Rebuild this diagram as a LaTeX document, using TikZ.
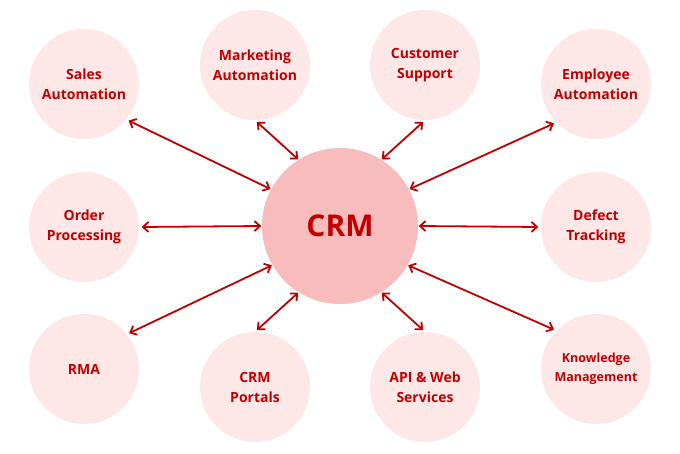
\documentclass[tikz,border=0pt]{standalone}
\usepackage{fontspec}
\setmainfont{Open Sans}
\usetikzlibrary{arrows.meta}
\definecolor{crmred}{HTML}{C00000}
\definecolor{lightpink}{HTML}{FDE7E7}
\definecolor{midpink}{HTML}{F9BCBC}
\begin{document}
\begin{tikzpicture}[x=1pt,y=-1pt,
  outer/.style={circle,fill=lightpink,minimum size=110pt,inner sep=0pt,align=center,
     text=crmred,font=\fontsize{14}{20}\selectfont\bfseries},
  hub/.style={circle,fill=midpink,minimum size=156pt,inner sep=0pt,
     text=crmred,font=\fontsize{30}{34}\selectfont\bfseries},
  link/.style={draw=crmred,line width=1.8pt,{Straight Barb[length=5.5pt,width=10pt]}-{Straight Barb[length=5.5pt,width=10pt]},shorten <=2.5pt,shorten >=0.5pt}]
\useasboundingbox (0,0) rectangle (680,453);
\fill[white] (0,0) rectangle (680,453);
\node[hub] (crm) at (340,226) {CRM};
\node[outer] (sales) at (84,84) {Sales\\Automation};
\node[outer] (mkt) at (255,65) {Marketing\\Automation};
\node[outer] (cs) at (425,65) {Customer\\Support};
\node[outer] (emp) at (596,84) {Employee\\Automation};
\node[outer] (ord) at (84,227) {Order\\Processing};
\node[outer] (def) at (596,227) {Defect\\Tracking};
\node[outer] (rma) at (84,369) {RMA};
\node[outer] (portal) at (255,387) {CRM\\Portals};
\node[outer] (api) at (425,387) {API \& Web\\Services};
\node[outer,font=\fontsize{12.5}{19}\selectfont\bfseries] (km) at (596,369) {Knowledge\\Management};
\draw[link] (sales.-40) -- (crm.152);
\draw[link] (mkt.-90) -- (crm.122);
\draw[link] (cs.-90) -- (crm.58);
\draw[link] (emp.-136) -- (crm.28);
\draw[link] (ord.east) -- (crm.west);
\draw[link] (def.west) -- (crm.east);
\draw[link] (rma.39) -- (crm.210);
\draw[link] (portal.90) -- (crm.238);
\draw[link] (api.90) -- (crm.-58);
\draw[link] (km.136) -- (crm.-30);
\end{tikzpicture}
\end{document}
